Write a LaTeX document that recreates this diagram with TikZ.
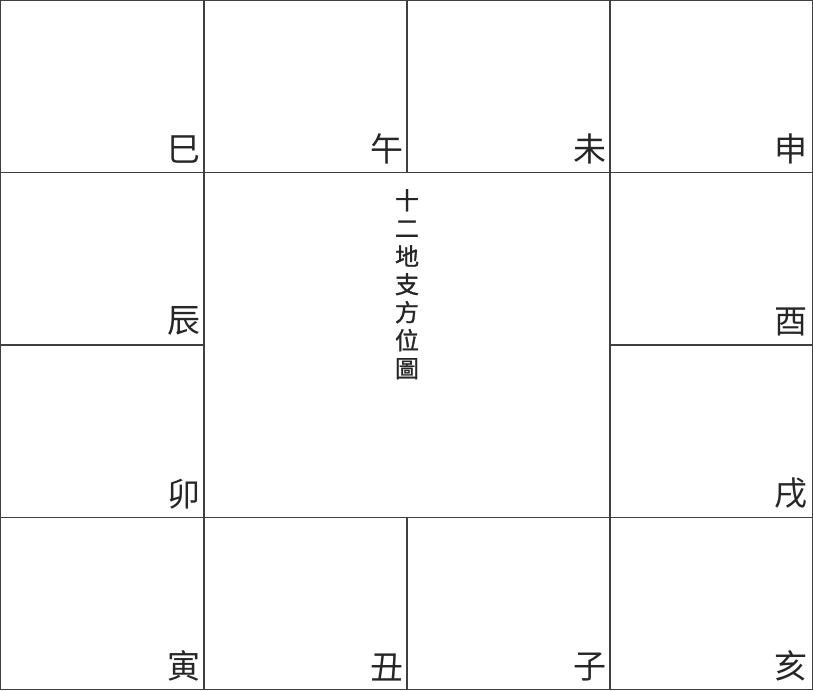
\documentclass[tikz,border=0pt]{standalone}
\usepackage{fontspec}
\newfontfamily\cjk{Noto Sans CJK TC}
\newfontfamily\cjktitle[FakeBold=1.2]{Noto Sans CJK TC}
\begin{document}
\begin{tikzpicture}[x=1pt,y=-1pt,
  gridline/.style={draw=black!75,line width=1.3pt},
  branch/.style={anchor=south east,inner sep=0pt,font=\cjk\fontsize{33}{33}\selectfont,text=black!85},
  titletext/.style={anchor=north,inner sep=0pt,align=center,font=\cjktitle\fontsize{24}{28}\selectfont,text=black!85}]
\useasboundingbox (0,0) rectangle (813,690);
\fill[white] (0,0) rectangle (813,690);
% outer frame
\draw[gridline] (0.8,0.8) rectangle (812.2,689.2);
% vertical lines
\draw[gridline] (204,0) -- (204,690);
\draw[gridline] (610,0) -- (610,690);
\draw[gridline] (407,0) -- (407,172.5);
\draw[gridline] (407,517.5) -- (407,690);
% horizontal lines
\draw[gridline] (0,172.5) -- (813,172.5);
\draw[gridline] (0,517.5) -- (813,517.5);
\draw[gridline] (0,345) -- (204,345);
\draw[gridline] (610,345) -- (813,345);
% labels
\node[branch] (si) at (201,164) {巳};
\node[branch] (wu) at (404,164) {午};
\node[branch] (wei) at (607,164) {未};
\node[branch] (shen) at (808,164) {申};
\node[branch] (chen) at (201,336) {辰};
\node[branch] (you) at (808,336) {酉};
\node[branch] (mao) at (201,509) {卯};
\node[branch] (xu) at (808,509) {戌};
\node[branch] (yin) at (201,681) {寅};
\node[branch] (chou) at (404,681) {丑};
\node[branch] (zi) at (607,681) {子};
\node[branch] (hai) at (808,681) {亥};
\node[titletext] (title) at (407,189) {十\\二\\地\\支\\方\\位\\圖};
\end{tikzpicture}
\end{document}
